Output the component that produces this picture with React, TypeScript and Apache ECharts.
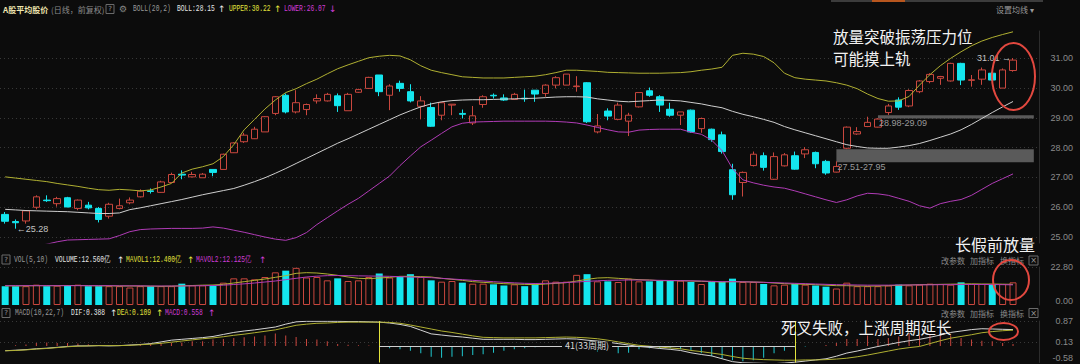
import React, { useEffect, useRef } from 'react';
import * as echarts from 'echarts';

// ---------------- data ----------------
const OPEN = [25.76, 25.52, 25.54, 26.00, 26.24, 26.12, 26.32, 25.96, 26.07, 25.96,
  25.70, 25.96, 26.15, 26.35, 26.55, 26.50, 26.83, 27.11, 27.02, 26.99,
  27.27, 27.27, 27.83, 28.20, 28.30, 28.53, 29.15, 29.76, 29.20, 29.28,
  29.57, 29.57, 29.74, 29.24, 29.86, 29.99, 30.44, 29.76, 30.16, 29.88,
  29.39, 29.35, 29.09, 29.43, 29.15, 28.83, 29.45, 29.76, 29.67, 29.62,
  29.66, 29.93, 29.82, 30.10, 30.10, 30.05, 30.18, 28.53, 29.23, 28.95,
  28.89, 29.37, 29.91, 29.71, 29.29, 29.09, 29.26, 28.64, 28.62, 28.43,
  27.26, 26.83, 27.40, 27.73, 26.94, 27.39, 27.73, 27.79, 27.84, 27.54,
  27.18, 27.98, 28.46, 28.71, 28.69, 29.18, 29.60, 29.40, 29.88, 30.22,
  30.33, 30.24, 30.83, 30.26, 30.30, 30.50, 30.00, 30.59];
const CLOSE = [25.53, 25.48, 25.88, 26.35, 26.22, 26.29, 26.01, 26.24, 25.98, 25.59,
  26.10, 26.05, 26.24, 26.54, 26.53, 26.85, 27.10, 27.08, 27.10, 27.11,
  27.17, 27.78, 28.16, 28.42, 28.62, 29.04, 29.71, 29.20, 29.51, 29.45,
  29.65, 29.79, 29.41, 29.79, 29.95, 30.36, 29.88, 30.07, 29.99, 29.57,
  29.57, 28.72, 29.51, 29.46, 29.12, 29.07, 29.71, 29.74, 29.60, 29.79,
  29.64, 29.80, 30.10, 30.35, 30.47, 30.07, 28.87, 28.73, 29.06, 29.43,
  29.09, 29.85, 29.76, 29.43, 29.09, 29.20, 28.53, 28.98, 28.27, 27.87,
  26.42, 27.17, 27.78, 27.34, 27.70, 27.76, 27.28, 27.93, 27.46, 27.15,
  27.37, 28.69, 28.54, 28.85, 28.96, 29.40, 29.36, 29.92, 30.24, 30.46,
  30.39, 30.83, 30.27, 30.28, 30.61, 30.27, 30.61, 30.94];
const LOW = [25.45, 25.28, 25.45, 25.93, 26.18, 26.02, 26.00, 25.90, 25.93, 25.49,
  25.62, 25.93, 26.10, 26.33, 26.46, 26.49, 26.82, 26.94, 27.00, 26.99,
  27.04, 27.27, 27.82, 28.16, 28.29, 28.53, 29.09, 29.15, 29.15, 29.09,
  29.48, 29.55, 29.20, 29.24, 29.84, 29.97, 29.73, 29.26, 29.88, 29.52,
  28.95, 28.70, 28.92, 29.09, 28.98, 28.76, 29.34, 29.65, 29.57, 29.60,
  29.54, 29.54, 29.71, 29.99, 30.10, 29.88, 28.83, 28.48, 28.92, 28.92,
  28.39, 29.35, 29.71, 29.20, 29.04, 28.76, 28.50, 28.50, 28.20, 27.80,
  26.25, 26.36, 27.37, 27.23, 26.92, 27.37, 27.26, 27.65, 27.31, 27.09,
  27.17, 27.95, 28.43, 28.69, 28.68, 29.10, 29.27, 29.36, 29.83, 30.16,
  30.11, 30.22, 30.10, 30.05, 30.11, 30.24, 30.00, 30.55];
const HIGH = [25.84, 25.59, 25.88, 26.40, 26.40, 26.35, 26.35, 26.26, 26.18, 26.01,
  26.15, 26.29, 26.33, 26.60, 26.63, 26.89, 27.16, 27.24, 27.19, 27.15,
  27.27, 27.80, 28.18, 28.50, 28.70, 29.06, 29.73, 29.82, 29.93, 29.48,
  29.79, 29.84, 29.82, 29.84, 29.98, 30.38, 30.44, 30.13, 30.25, 30.13,
  29.73, 29.51, 29.54, 29.46, 29.28, 29.40, 29.76, 29.82, 29.79, 29.84,
  29.95, 29.93, 30.13, 30.40, 30.47, 30.40, 30.20, 29.13, 29.32, 29.51,
  29.17, 29.85, 30.02, 29.76, 29.51, 29.20, 29.28, 29.01, 28.64, 28.54,
  27.46, 27.20, 27.87, 27.84, 27.84, 27.82, 27.87, 28.02, 27.87, 27.59,
  27.54, 28.71, 28.69, 29.04, 28.99, 29.47, 29.69, 29.96, 30.27, 30.50,
  30.41, 30.85, 30.85, 30.44, 30.69, 30.55, 30.66, 31.01];

const BOLL_UPPER = [27.02, 26.98, 26.94, 26.90, 26.86, 26.80, 26.75, 26.70, 26.64, 26.59,
  26.57, 26.60, 26.58, 26.55, 26.58, 26.68, 26.80, 27.15, 27.28, 27.36,
  27.46, 27.70, 28.10, 28.60, 28.95, 29.30, 29.60, 29.85, 29.98, 30.15,
  30.30, 30.48, 30.65, 30.78, 30.90, 31.02, 31.07, 31.10, 31.08, 30.95,
  30.75, 30.60, 30.52, 30.45, 30.38, 30.36, 30.34, 30.34, 30.34, 30.36,
  30.38, 30.40, 30.45, 30.52, 30.60, 30.60, 30.58, 30.56, 30.53, 30.52,
  30.51, 30.50, 30.50, 30.50, 30.51, 30.52, 30.55, 30.60, 30.64, 30.70,
  31.10, 31.17, 31.14, 31.06, 30.85, 30.50, 30.35, 30.30, 30.27, 30.24,
  30.18, 30.10, 29.98, 29.80, 29.65, 29.56, 29.57, 29.72, 30.10, 30.45,
  30.75, 31.00, 31.22, 31.42, 31.58, 31.70, 31.80, 31.89];
const BOLL_MID = [25.93, 25.91, 25.89, 25.88, 25.87, 25.86, 25.85, 25.83, 25.81, 25.79,
  25.79, 25.81, 25.92, 25.98, 26.05, 26.12, 26.19, 26.26, 26.34, 26.42,
  26.49, 26.56, 26.63, 26.74, 26.86, 26.99, 27.14, 27.30, 27.47, 27.64,
  27.81, 27.98, 28.15, 28.30, 28.46, 28.62, 28.78, 28.94, 29.10, 29.24,
  29.37, 29.47, 29.54, 29.58, 29.60, 29.61, 29.61, 29.62, 29.63, 29.64,
  29.65, 29.66, 29.68, 29.70, 29.71, 29.71, 29.70, 29.64, 29.60, 29.56,
  29.54, 29.56, 29.58, 29.60, 29.59, 29.57, 29.52, 29.47, 29.40, 29.34,
  29.22, 29.12, 29.04, 28.95, 28.85, 28.71, 28.60, 28.50, 28.40, 28.30,
  28.20, 28.10, 28.04, 27.99, 27.98, 27.98, 28.02, 28.07, 28.14, 28.24,
  28.35, 28.46, 28.60, 28.78, 28.98, 29.18, 29.37, 29.55];
const BOLL_LOWER = [24.60, 24.62, 24.65, 24.70, 24.76, 24.84, 24.90, 24.91, 24.92, 24.93,
  24.94, 25.05, 25.18, 25.25, 25.27, 25.28, 25.29, 25.29, 25.29, 25.30,
  25.34, 25.30, 25.23, 25.16, 25.08, 25.00, 24.93, 24.89, 24.98, 25.15,
  25.42, 25.65, 25.88, 26.10, 26.30, 26.55, 26.80, 27.05, 27.40, 27.72,
  28.03, 28.25, 28.48, 28.70, 28.82, 28.86, 28.87, 28.88, 28.89, 28.89,
  28.89, 28.89, 28.89, 28.88, 28.86, 28.83, 28.76, 28.68, 28.60, 28.53,
  28.52, 28.59, 28.61, 28.62, 28.62, 28.62, 28.52, 28.45, 28.25, 27.90,
  27.30, 26.92, 26.82, 26.74, 26.68, 26.64, 26.55, 26.45, 26.35, 26.25,
  26.16, 26.25, 26.38, 26.47, 26.45, 26.40, 26.30, 26.20, 26.05, 25.97,
  26.12, 26.20, 26.26, 26.40, 26.60, 26.80, 26.96, 27.12];

const VOLUME = [11.3, 11.3, 11.3, 12.2, 11.3, 11.6, 12.0, 12.2, 11.3, 11.3,
  11.3, 11.3, 10.5, 11.3, 11.3, 11.3, 11.3, 12.8, 11.8, 11.8,
  11.5, 13.4, 16.0, 16.0, 15.4, 16.8, 19.6, 20.6, 22.3, 16.5,
  16.8, 14.8, 16.0, 14.4, 14.8, 16.8, 18.9, 16.5, 16.8, 18.5,
  16.8, 14.8, 14.0, 14.4, 13.4, 12.8, 12.8, 12.4, 11.7, 12.4,
  11.3, 12.4, 14.8, 14.0, 14.0, 18.1, 18.5, 14.2, 14.2, 13.8,
  15.8, 14.2, 14.2, 14.8, 14.8, 14.6, 13.8, 12.6, 13.8, 13.8,
  15.8, 13.8, 13.8, 12.6, 11.8, 12.2, 12.6, 12.2, 11.7, 11.0,
  9.9, 13.4, 11.3, 11.3, 11.3, 11.7, 12.2, 11.8, 12.2, 12.8,
  12.6, 12.2, 13.6, 12.6, 12.6, 12.6, 12.6, 13.6];
const MAVOL1 = [11.5, 11.5, 11.5, 11.6, 11.6, 11.6, 11.7, 11.7, 11.6, 11.5,
  11.5, 11.4, 11.4, 11.4, 11.3, 11.2, 11.3, 11.5, 11.7, 11.9,
  12.0, 12.4, 13.2, 14.0, 14.8, 15.6, 16.6, 17.6, 19.0, 19.4,
  19.2, 18.6, 17.8, 16.8, 16.0, 15.8, 16.2, 16.6, 17.2, 17.2,
  17.0, 16.8, 16.0, 15.4, 14.8, 14.0, 13.6, 13.2, 12.8, 12.6,
  12.4, 12.2, 12.6, 13.0, 13.4, 14.4, 15.4, 16.2, 16.4, 16.0,
  15.6, 15.2, 15.0, 14.6, 14.6, 14.6, 14.4, 14.2, 14.0, 13.8,
  14.0, 13.9, 13.8, 13.6, 13.2, 12.8, 12.6, 12.4, 12.2, 11.9,
  11.6, 11.6, 11.4, 11.3, 11.4, 11.6, 11.8, 12.0, 12.2, 12.3,
  12.4, 12.5, 12.6, 12.7, 12.6, 12.6, 12.5, 12.4];
const MAVOL2 = [11.6, 11.6, 11.6, 11.6, 11.6, 11.6, 11.6, 11.6, 11.6, 11.6,
  11.6, 11.5, 11.5, 11.5, 11.4, 11.4, 11.4, 11.4, 11.5, 11.6,
  11.7, 11.9, 12.3, 12.7, 13.2, 13.8, 14.4, 15.2, 16.0, 16.8,
  17.3, 17.6, 17.7, 17.6, 17.5, 17.4, 17.3, 17.2, 17.0, 16.8,
  16.6, 16.4, 16.0, 15.6, 15.2, 14.8, 14.4, 14.0, 13.6, 13.3,
  13.0, 12.9, 13.0, 13.2, 13.5, 13.8, 14.2, 14.5, 14.8, 14.9,
  15.0, 15.0, 14.9, 14.8, 14.7, 14.6, 14.5, 14.4, 14.2, 14.0,
  14.0, 13.9, 13.8, 13.6, 13.4, 13.2, 13.0, 12.8, 12.6, 12.4,
  12.2, 12.1, 12.0, 11.9, 11.9, 11.9, 12.0, 12.0, 12.1, 12.1,
  12.2, 12.2, 12.3, 12.3, 12.3, 12.3, 12.2, 12.1];

const DIF = [-0.17, -0.15, -0.13, -0.10, -0.08, -0.05, -0.02, 0.00, 0.00, 0.01,
  0.00, 0.01, 0.03, 0.05, 0.08, 0.14, 0.20, 0.23, 0.26, 0.29,
  0.33, 0.40, 0.47, 0.52, 0.56, 0.61, 0.66, 0.76, 0.84, 0.86,
  0.86, 0.86, 0.86, 0.85, 0.85, 0.84, 0.83, 0.80, 0.75, 0.68,
  0.55, 0.42, 0.38, 0.34, 0.31, 0.27, 0.23, 0.23, 0.23, 0.23,
  0.22, 0.22, 0.23, 0.24, 0.25, 0.24, 0.20, 0.17, 0.13, 0.08,
  0.03, -0.02, -0.05, -0.09, -0.12, -0.16, -0.24, -0.30, -0.35, -0.45,
  -0.55, -0.59, -0.60, -0.61, -0.62, -0.60, -0.57, -0.53, -0.49, -0.45,
  -0.36, -0.25, -0.18, -0.10, -0.02, 0.05, 0.12, 0.18, 0.23, 0.30,
  0.38, 0.47, 0.52, 0.57, 0.60, 0.59, 0.58, 0.57];
const DEA = [-0.17, -0.16, -0.14, -0.11, -0.09, -0.06, -0.03, -0.01, 0.00, 0.01,
  0.01, 0.01, 0.02, 0.04, 0.06, 0.09, 0.13, 0.17, 0.21, 0.25,
  0.28, 0.32, 0.37, 0.41, 0.46, 0.51, 0.56, 0.64, 0.72, 0.76,
  0.79, 0.80, 0.82, 0.83, 0.83, 0.83, 0.83, 0.82, 0.79, 0.73,
  0.66, 0.59, 0.52, 0.47, 0.41, 0.35, 0.30, 0.29, 0.28, 0.28,
  0.28, 0.28, 0.29, 0.30, 0.31, 0.30, 0.28, 0.25, 0.20, 0.14,
  0.08, 0.02, -0.01, -0.04, -0.07, -0.10, -0.16, -0.20, -0.25, -0.30,
  -0.37, -0.43, -0.46, -0.48, -0.49, -0.50, -0.50, -0.49, -0.49, -0.48,
  -0.46, -0.43, -0.38, -0.32, -0.25, -0.18, -0.11, -0.06, -0.02, 0.08,
  0.18, 0.27, 0.33, 0.39, 0.46, 0.50, 0.53, 0.55];
const MACD_HIST = [0.00, 0.02, 0.05, 0.10, 0.12, 0.10, 0.10, 0.08, 0.06, 0.02,
  0.00, 0.02, 0.04, 0.07, 0.09, 0.10, 0.11, 0.12, 0.16, 0.16,
  0.22, 0.24, 0.28, 0.30, 0.33, 0.36, 0.43, 0.36, 0.31, 0.24,
  0.22, 0.16, 0.07, 0.04, 0.02, 0.01, 0.00, -0.08, -0.12, -0.17,
  -0.26, -0.38, -0.41, -0.38, -0.36, -0.32, -0.29, -0.24, -0.17, -0.12,
  -0.08, -0.05, -0.03, -0.04, -0.05, -0.06, -0.10, -0.20, -0.14, -0.26,
  -0.24, -0.12, -0.08, -0.08, -0.08, -0.12, -0.14, -0.26, -0.36, -0.44,
  -0.50, -0.54, -0.50, -0.41, -0.26, -0.17, -0.05, -0.02, 0.00, 0.03,
  0.10, 0.24, 0.24, 0.36, 0.24, 0.28, 0.33, 0.45, 0.36, 0.39,
  0.36, 0.36, 0.28, 0.22, 0.18, 0.16, 0.10, 0.07];

// support zones (price ranges) and the candle where each starts
const ZONE_LOW = [28.98, 27.51];
const ZONE_HIGH = [29.09, 27.95];
const ZONE_START = [84, 80];
// period marker in MACD panel (candle indices)
const PERIOD_FROM = 36;
const PERIOD_TO = 76;
const PERIOD_LABEL = '41(33周期)';

const PRICE_TICKS = [25, 26, 27, 28, 29, 30, 31];
const VOL_TICK_LABELS = ['0.00', '22.80'];
const MACD_TICK_LABELS = ['-0.58', '0.13', '0.87'];

const CATEGORIES = Array.from({ length: OPEN.length + 2 }, (_, i) => 'D' + (i + 1));

// ---------------- styles ----------------
const BG = '#0c0c0c';
const RED = '#c9473e';
const CYAN = '#14e6ee';
const UPPER_C = '#b0b032';
const MID_C = '#cfcfcf';
const LOWER_C = '#b03cb6';
const GRID_C = '#383838';
const AXIS_TXT = '#8a8a8a';
const HDR_YEL = '#e2e23c';
const HDR_MAG = '#d03cd6';
const HDR_WHT = '#e6e6e6';
const HDR_GRY = '#9a9a9a';
const CJK = 'Noto Sans CJK SC, sans-serif';
const MONO = 'Liberation Mono, DejaVu Sans Mono, monospace';

const GRID_W = 1039;

function txt(text: string, x: number, y: number, fill: string, o: any = {}) {
  return {
    type: 'text', x, y, z: 50, silent: true, scaleX: o.sx ?? 1,
    style: {
      text, fill, fontSize: o.fs ?? 9, fontFamily: o.ff ?? MONO, fontWeight: o.fw ?? 'normal',
      textVerticalAlign: 'middle', textAlign: o.al ?? 'left',
    },
  };
}
function hdr(text: string, x: number, y: number, fill: string) {
  return txt(text, x, y, fill, { sx: 0.7, fs: 9 });
}
function arrow(ch: string, x: number, y: number, fill: string) {
  return txt(ch, x, y, fill, { fs: 9, ff: 'DejaVu Sans, sans-serif' });
}
function qbox(x: number, y: number) {
  return [
    { type: 'rect', z: 50, silent: true, shape: { x, y: y - 4.5, width: 8, height: 9 }, style: { fill: 'none', stroke: '#6a6a6a', lineWidth: 1 } },
    txt('?', x + 4, y, '#9a9a9a', { fs: 7, al: 'center', ff: 'DejaVu Sans, sans-serif' }),
  ];
}
function xbox(x: number, y: number) {
  return [
    { type: 'rect', z: 50, silent: true, shape: { x, y: y - 4.5, width: 9, height: 9 }, style: { fill: 'none', stroke: '#6a6a6a', lineWidth: 1 } },
    txt('×', x + 4.5, y, '#9a9a9a', { fs: 8, al: 'center', ff: 'DejaVu Sans, sans-serif' }),
  ];
}
function toolLinks(y: number) {
  return [
    txt('改参数', 941, y, '#8a8a8a', { ff: CJK, fs: 8 }),
    txt('加指标', 970, y, '#8a8a8a', { ff: CJK, fs: 8 }),
    txt('换指标', 1000, y, '#8a8a8a', { ff: CJK, fs: 8 }),
    ...xbox(1029, y),
  ];
}
function ellipse(cx: number, cy: number, rx: number, ry: number) {
  return { type: 'ellipse', z: 60, silent: true, shape: { cx, cy, rx, ry }, style: { fill: 'none', stroke: '#e2483f', lineWidth: 2 } };
}

function buildOption(): any {
  const xAxisBase = {
    type: 'category', data: CATEGORIES, boundaryGap: true,
    axisLine: { show: false }, axisTick: { show: false }, axisLabel: { show: false }, splitLine: { show: false },
  };
  const yLabel = {
    color: AXIS_TXT, fontSize: 9, fontFamily: 'Liberation Sans, sans-serif', align: 'right', margin: 34,
  };
  const candleData = OPEN.map((o, i) => [o, CLOSE[i], LOW[i], HIGH[i]]);
  const volData = VOLUME.map((v, i) => {
    const up = CLOSE[i] >= OPEN[i];
    return {
      value: v,
      itemStyle: up ? { color: BG, borderColor: RED, borderWidth: 1 } : { color: CYAN, borderWidth: 0 },
    };
  });
  const macdData = MACD_HIST.map((v) => ({ value: v, itemStyle: { color: v >= 0 ? RED : '#1fc8cf' } }));

  const n = OPEN.length;
  const markLabel = { show: true, color: '#c4c4c4', fontSize: 9, fontFamily: 'Liberation Sans, sans-serif' };

  return {
    animation: false,
    backgroundColor: BG,
    grid: [
      { left: 0, top: 31, width: GRID_W, height: 212 },
      { left: 0, top: 267, width: GRID_W, height: 38 },
      { left: 0, top: 321, width: GRID_W, height: 41.5 },
    ],
    xAxis: [
      { ...xAxisBase, gridIndex: 0 },
      { ...xAxisBase, gridIndex: 1 },
      { ...xAxisBase, gridIndex: 2 },
    ],
    yAxis: [
      {
        gridIndex: 0, type: 'value', position: 'right', min: 24.8, max: 31.917, splitNumber: 7,
        axisLine: { show: true, lineStyle: { color: '#2c2c2c' } }, axisTick: { show: false },
        axisLabel: {
          ...yLabel, showMinLabel: false, showMaxLabel: false,
          formatter: (v: number) => (PRICE_TICKS.some((t) => Math.abs(t - v) < 1e-6) ? v.toFixed(2) : ''),
        },
        splitLine: { show: true, showMinLine: false, showMaxLine: false, lineStyle: { color: GRID_C, type: [1, 3] } },
      },
      {
        gridIndex: 1, type: 'value', position: 'right', min: 0, max: 22.8, interval: 22.8,
        axisLine: { show: true, lineStyle: { color: '#2c2c2c' } }, axisTick: { show: false },
        axisLabel: { ...yLabel, formatter: (_v: number, i: number) => VOL_TICK_LABELS[i] ?? '', verticalAlignMinLabel: 'bottom' },
        splitLine: { show: true, showMinLine: false, lineStyle: { color: GRID_C, type: [1, 3] } },
      },
      {
        gridIndex: 2, type: 'value', position: 'right', min: -0.58, max: 0.87, interval: 0.725,
        axisLine: { show: true, lineStyle: { color: '#2c2c2c' } }, axisTick: { show: false },
        axisLabel: { ...yLabel, formatter: (_v: number, i: number) => MACD_TICK_LABELS[i] ?? '', verticalAlignMinLabel: 'bottom' },
        splitLine: { show: true, showMinLine: false, lineStyle: { color: GRID_C, type: [1, 3] } },
      },
    ],
    series: [
      {
        type: 'candlestick', xAxisIndex: 0, yAxisIndex: 0, barWidth: 7, data: candleData,
        itemStyle: { color: 'transparent', color0: CYAN, borderColor: RED, borderColor0: CYAN, borderWidth: 1 },
        markArea: {
          silent: true,
          itemStyle: { color: '#5a5a5a' },
          data: ZONE_LOW.map((lo, k) => [
            { xAxis: CATEGORIES[ZONE_START[k]], yAxis: lo },
            { xAxis: CATEGORIES[CATEGORIES.length - 1], yAxis: ZONE_HIGH[k] },
          ]),
        },
        markPoint: {
          silent: true, symbol: 'circle', symbolSize: 0.1, itemStyle: { color: 'transparent' },
          data: [
            { coord: [CATEGORIES[n - 1], HIGH[n - 1]], label: { ...markLabel, position: 'left', distance: 2, formatter: HIGH[n - 1].toFixed(2) + ' →' } },
            { coord: [CATEGORIES[1], LOW[1]], label: { ...markLabel, position: 'right', distance: 1, formatter: '←' + LOW[1].toFixed(2) } },
            ...ZONE_LOW.map((lo, k) => ({
              coord: [CATEGORIES[ZONE_START[k]], lo],
              label: { ...markLabel, color: '#9a9a9a', position: 'right', distance: 1, offset: [0, 5], formatter: lo.toFixed(2) + '-' + ZONE_HIGH[k].toFixed(2) },
            })),
          ],
        },
      },
      { type: 'line', name: 'UPPER', xAxisIndex: 0, yAxisIndex: 0, data: BOLL_UPPER, symbol: 'none', lineStyle: { color: UPPER_C, width: 1 } },
      { type: 'line', name: 'BOLL', xAxisIndex: 0, yAxisIndex: 0, data: BOLL_MID, symbol: 'none', lineStyle: { color: MID_C, width: 1 } },
      { type: 'line', name: 'LOWER', xAxisIndex: 0, yAxisIndex: 0, data: BOLL_LOWER, symbol: 'none', lineStyle: { color: LOWER_C, width: 1 } },

      { type: 'bar', xAxisIndex: 1, yAxisIndex: 1, barWidth: 7, data: volData },
      { type: 'line', xAxisIndex: 1, yAxisIndex: 1, data: MAVOL1, symbol: 'none', lineStyle: { color: UPPER_C, width: 1 } },
      { type: 'line', xAxisIndex: 1, yAxisIndex: 1, data: MAVOL2, symbol: 'none', lineStyle: { color: LOWER_C, width: 1 } },

      {
        type: 'bar', xAxisIndex: 2, yAxisIndex: 2, barWidth: 1, data: macdData,
        markLine: {
          silent: true, symbol: ['none', 'none'], label: { show: false },
          lineStyle: { color: '#e2e23c', width: 1, type: 'solid' },
          data: [
            { xAxis: CATEGORIES[PERIOD_FROM] },
            { xAxis: CATEGORIES[PERIOD_TO] },
            [
              {
                coord: [CATEGORIES[PERIOD_FROM], 0],
                lineStyle: { color: '#cfcfcf', width: 1, type: 'solid' },
                label: {
                  show: true, position: 'middle', distance: 0, verticalAlign: 'middle',
                  formatter: PERIOD_LABEL, color: '#d8d8d8', fontSize: 9, fontFamily: CJK,
                  backgroundColor: BG, padding: [0, 3],
                },
              },
              { coord: [CATEGORIES[PERIOD_TO], 0] },
            ],
          ],
        },
      },
      { type: 'line', xAxisIndex: 2, yAxisIndex: 2, data: DIF, symbol: 'none', lineStyle: { color: '#d4d4d4', width: 1 } },
      { type: 'line', xAxisIndex: 2, yAxisIndex: 2, data: DEA, symbol: 'none', lineStyle: { color: UPPER_C, width: 1 } },
    ],
    graphic: [
      // top scroll strip
      { type: 'rect', z: 40, silent: true, shape: { x: 831, y: 0, width: 212, height: 2 }, style: { fill: '#3c3c3c' } },
      { type: 'rect', z: 41, silent: true, shape: { x: 872, y: 0, width: 33, height: 2 }, style: { fill: '#b8561e' } },
      // main header
      txt('A股平均股价', 3, 9, '#efe6b0', { ff: CJK, fs: 8, fw: 'bold' }),
      txt('(日线，前复权)', 51, 9, '#8c8c8c', { ff: CJK, fs: 8 }),
      ...qbox(106, 9),
      txt('⚙', 119, 9, '#888888', { fs: 9, ff: 'DejaVu Sans, sans-serif' }),
      hdr('BOLL(20,2)', 133, 9, HDR_GRY),
      hdr('BOLL:28.15', 177, 9, HDR_WHT),
      arrow('↑', 218, 9, HDR_WHT),
      hdr('UPPER:30.22', 229, 9, HDR_YEL),
      arrow('↑', 274, 9, HDR_YEL),
      hdr('LOWER:26.07', 284, 9, HDR_MAG),
      arrow('↓', 329, 9, HDR_MAG),
      txt('设置均线 ▾', 996, 9, '#9a9a9a', { ff: CJK, fs: 8 }),
      // volume header
      ...qbox(2, 259.5),
      hdr('VOL(5,10)', 14, 259.5, HDR_GRY),
      hdr('VOLUME:12.560亿', 55, 259.5, HDR_WHT),
      arrow('↑', 117, 259.5, HDR_WHT),
      hdr('MAVOL1:12.400亿', 126, 259.5, HDR_YEL),
      arrow('↑', 187, 259.5, HDR_YEL),
      hdr('MAVOL2:12.125亿', 196, 259.5, HDR_MAG),
      arrow('↑', 259, 259.5, HDR_MAG),
      ...toolLinks(260.5),
      // macd header
      ...qbox(2, 313),
      hdr('MACD(10,22,7)', 15, 313, HDR_GRY),
      hdr('DIF:0.388', 71, 313, HDR_WHT),
      arrow('↑', 110, 313, HDR_WHT),
      hdr('DEA:0.109', 117, 313, HDR_YEL),
      arrow('↑', 156, 313, HDR_YEL),
      hdr('MACD:0.558', 165, 313, HDR_MAG),
      arrow('↑', 208, 313, HDR_MAG),
      ...toolLinks(313),
      // annotations
      txt('放量突破振荡压力位', 833, 35.5, '#f2f2f2', { ff: CJK, fs: 15.5 }),
      txt('可能摸上轨', 833, 58, '#f2f2f2', { ff: CJK, fs: 15.5 }),
      txt('长假前放量', 955, 244, '#f2f2f2', { ff: CJK, fs: 16 }),
      txt('死叉失败，上涨周期延长', 781, 327, '#f2f2f2', { ff: CJK, fs: 15.5 }),
      ellipse(1013.5, 76.5, 21.5, 33.5),
      ellipse(1011, 280, 18, 20),
      ellipse(1003.5, 331.5, 14.5, 8.5),
    ],
  };
}

export default function App() {
  const ref = useRef<HTMLDivElement>(null);
  useEffect(() => {
    document.body.style.margin = '0';
    document.body.style.background = BG;
    const chart = echarts.init(ref.current!, undefined, { renderer: 'svg' });
    chart.setOption(buildOption());
    return () => chart.dispose();
  }, []);
  return <div ref={ref} style={{ position: 'fixed', left: 0, top: 0, width: 1080, height: 364, background: BG }} />;
}
